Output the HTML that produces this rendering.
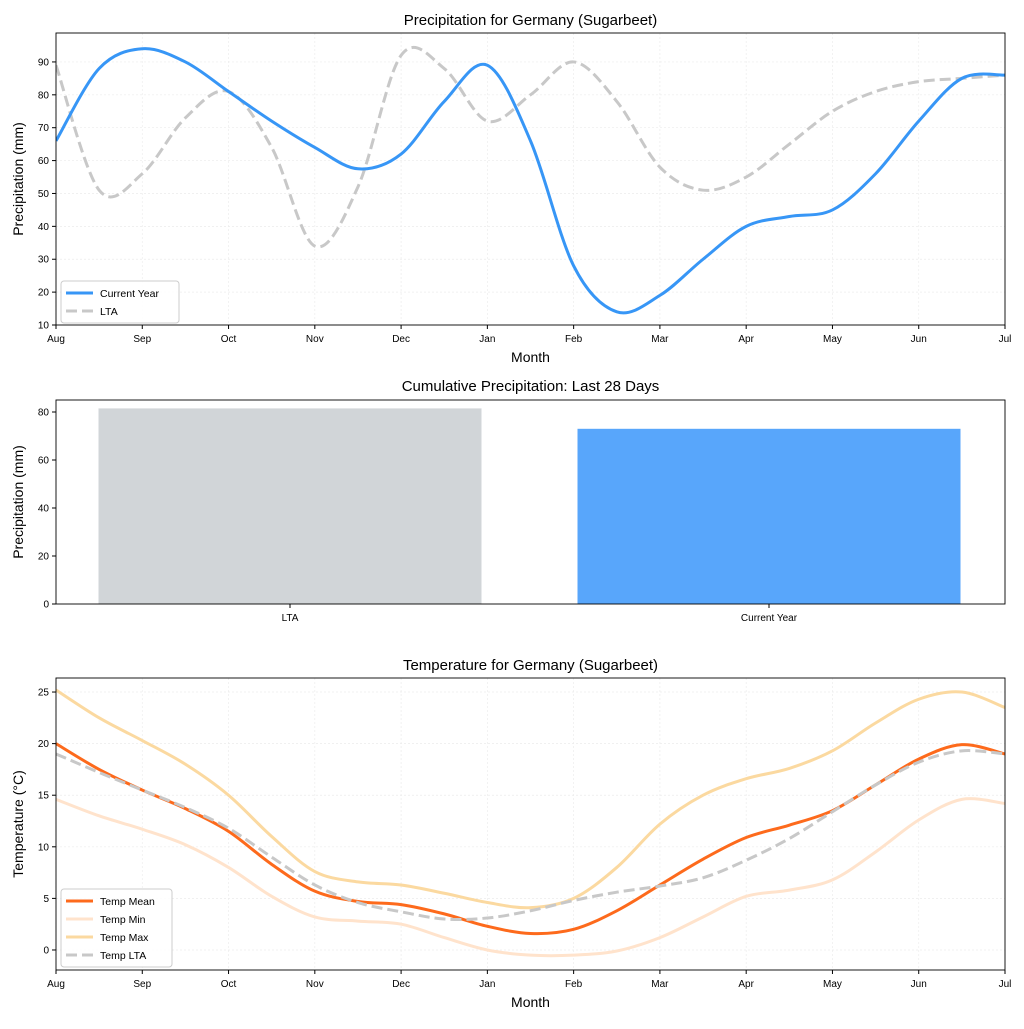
<!DOCTYPE html>
<html><head><meta charset="utf-8"><style>
body{margin:0;background:#fff}
svg{font-family:"Liberation Sans","DejaVu Sans",sans-serif}
</style></head><body>
<svg id="s" width="1024" height="1024" viewBox="0 0 1024 1024"></svg>
<script>
const months=["Aug","Sep","Oct","Nov","Dec","Jan","Feb","Mar","Apr","May","Jun","Jul"];
const sampleX=[0,0.5,1,1.5,2,2.5,3,3.5,4,4.5,5,5.5,6,6.5,7,7.5,8,8.5,9,9.5,10,10.5,11];
const precipCurrent=[66,88,94,90,81,72,64,57.5,62,78,89,66,28,14,19,30,40,43,45,56,72,85,86];
const precipLTA=[89,51,56,73,81,64,34,52,92,88,72,80,90,78,58,51,55,65,75,81,84,85,86];
const precipTicks=[10,20,30,40,50,60,70,80,90];
const barCats=["LTA","Current Year"];
const barVals=[81.5,73];
const barTicks=[0,20,40,60,80];
const tempMean=[20,17.5,15.5,13.7,11.5,8.3,5.7,4.7,4.4,3.5,2.3,1.6,2,3.8,6.3,8.8,10.9,12.1,13.5,16,18.5,19.9,19];
const tempMin=[14.6,13,11.7,10.2,8,5.2,3.2,2.8,2.5,1.2,0,-0.5,-0.5,-0.1,1.2,3.2,5.2,5.8,6.8,9.5,12.6,14.6,14.2];
const tempMax=[25.2,22.5,20.3,18,15,11,7.6,6.6,6.3,5.5,4.6,4.1,5,8,12.2,15,16.6,17.6,19.3,22,24.3,25,23.5];
const tempLTA=[19,17.2,15.5,13.8,11.8,9,6.3,4.6,3.7,3,3.1,3.8,4.8,5.6,6.2,7,8.7,10.8,13.4,16,18.2,19.3,19];
const tempTicks=[0,5,10,15,20,25];

const S=document.getElementById('s');const NS="http://www.w3.org/2000/svg";
function el(t,a,p){const e=document.createElementNS(NS,t);for(const k in a)e.setAttribute(k,a[k]);(p||S).appendChild(e);return e;}
function txt(x,y,s,a,p){const e=el('text',Object.assign({x:x,y:y,fill:'#000'},a),p);e.textContent=s;return e;}
const L=56,R=1005;
function sx(m){return L+(R-L)*m/11;}
function spline(pts){let d=`M${pts[0][0]},${pts[0][1]}`;for(let i=0;i<pts.length-1;i++){const p0=pts[i-1]||pts[i],p1=pts[i],p2=pts[i+1],p3=pts[i+2]||p2;d+=` C${p1[0]+(p2[0]-p0[0])/6},${p1[1]+(p2[1]-p0[1])/6} ${p2[0]-(p3[0]-p1[0])/6},${p2[1]-(p3[1]-p1[1])/6} ${p2[0]},${p2[1]}`;}return d;}
function axesFrame(top,bot,name){const r=el('rect',{x:L,y:top,width:R-L,height:bot-top,fill:'none',stroke:'#000','stroke-width':0.9});}
function monthAxis(top,bot){for(let i=0;i<12;i++){const x=sx(i);el('line',{x1:x,x2:x,y1:top,y2:bot,stroke:'#ececec','stroke-width':0.7,'stroke-dasharray':'2,2'});el('line',{x1:x,x2:x,y1:bot,y2:bot+4,stroke:'#000'});const t=txt(x,bot+17,months[i],{'font-size':10,'text-anchor':'middle'});}
const t=txt((L+R)/2,bot+37,'Month',{'font-size':14,'text-anchor':'middle'});}
function yAxis(ticks,fy,top,bot,label,grid,nm){ticks.forEach(v=>{const y=fy(v);if(grid)el('line',{x1:L,x2:R,y1:y,y2:y,stroke:'#ececec','stroke-width':0.7,'stroke-dasharray':'2,2'});el('line',{x1:L-4,x2:L,y1:y,y2:y,stroke:'#000'});const t=txt(L-7,y+3.5,String(v),{'font-size':10,'text-anchor':'end'});});
const t=txt(0,0,label,{'font-size':14,'text-anchor':'middle',transform:`translate(23,${(top+bot)/2}) rotate(-90)`});}
function title(y,s,nm){const t=txt((L+R)/2,y,s,{'font-size':15,'text-anchor':'middle'});}
function series(vals,fy,style,nm){const p=el('path',Object.assign({d:spline(sampleX.map((m,i)=>[sx(m),fy(vals[i])])),fill:'none','stroke-linecap':'butt'},style));}
function legend(x,y,w,items,nm){const h=items.length*18+6;const g=el('g',{});el('rect',{x:x,y:y,width:w,height:h,rx:3,fill:'#fff',stroke:'#ccc','fill-opacity':0.85},g);items.forEach((it,i)=>{const yy=y+12+i*18;el('line',Object.assign({x1:x+5,x2:x+32,y1:yy,y2:yy},it[1]),g);txt(x+39,yy+4,it[0],{'font-size':10.5},g);});}

// chart 1
const t1=33,b1=325;const fy1=v=>b1-(v-10)*(b1-t1)/88.8;
title(25,'Precipitation for Germany (Sugarbeet)','precip-title');
yAxis(precipTicks,fy1,t1,b1,'Precipitation (mm)',true,'precip');monthAxis(t1,b1);
const cp1=el('clipPath',{id:'c1'});el('rect',{x:L,y:t1,width:R-L,height:b1-t1},cp1);
const g1=el('g',{'clip-path':'url(#c1)'});
const lta1={stroke:'#c8c8c8','stroke-width':3,'stroke-dasharray':'11,5'},cur1={stroke:'#3796f6','stroke-width':3};
{const p=el('path',Object.assign({d:spline(sampleX.map((m,i)=>[sx(m),fy1(precipLTA[i])])),fill:'none'},lta1),g1);}
{const p=el('path',Object.assign({d:spline(sampleX.map((m,i)=>[sx(m),fy1(precipCurrent[i])])),fill:'none'},cur1),g1);}
axesFrame(t1,b1,'precip-axes');
legend(61,281,118,[['Current Year',cur1],['LTA',lta1]],'precip-legend');

// chart 2
const t2=400,b2=604;const fy2=v=>b2-v*(b2-t2)/85;const bx=i=>290+i*479;
title(391,'Cumulative Precipitation: Last 28 Days','bar-title');
yAxis(barTicks,fy2,t2,b2,'Precipitation (mm)',false,'bar');
const barCols=['#d1d5d8','#58a6fb'];
barVals.forEach((v,i)=>{const r=el('rect',{x:bx(i)-191.5,y:fy2(v),width:383,height:b2-fy2(v),fill:barCols[i]});
el('line',{x1:bx(i),x2:bx(i),y1:b2,y2:b2+4,stroke:'#000'});const t=txt(bx(i),b2+17,barCats[i],{'font-size':10,'text-anchor':'middle'});});
axesFrame(t2,b2,'bar-axes');

// chart 3
const t3=678,b3=970;const fy3=v=>b3-(v+1.94)*(b3-t3)/28.3;
title(670,'Temperature for Germany (Sugarbeet)','temp-title');
yAxis(tempTicks,fy3,t3,b3,'Temperature (°C)',true,'temp');monthAxis(t3,b3);
const sMin={stroke:'#ffe3cc','stroke-width':3},sMax={stroke:'#fbd9a0','stroke-width':3},sMean={stroke:'#fd6a1c','stroke-width':3},sLta={stroke:'#c8c8c8','stroke-width':3,'stroke-dasharray':'11,5'};
series(tempMin,fy3,sMin,'temp-min-line');series(tempMax,fy3,sMax,'temp-max-line');series(tempMean,fy3,sMean,'temp-mean-line');series(tempLTA,fy3,sLta,'temp-lta-line');
axesFrame(t3,b3,'temp-axes');
legend(61,889,111,[['Temp Mean',sMean],['Temp Min',sMin],['Temp Max',sMax],['Temp LTA',sLta]],'temp-legend');
</script>
</body></html>
